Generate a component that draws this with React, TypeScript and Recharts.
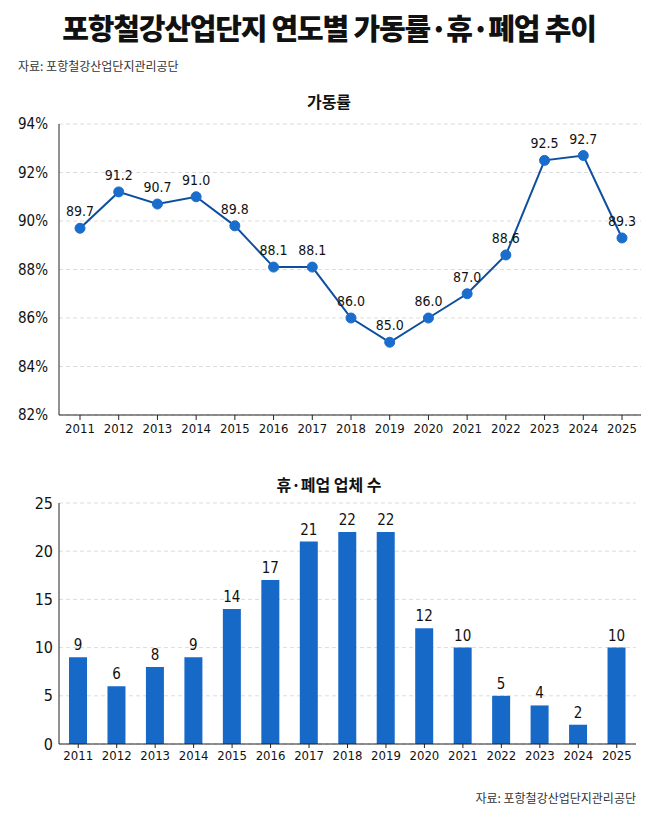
import { LineChart, Line, BarChart, Bar, XAxis, YAxis, CartesianGrid, LabelList } from "recharts";

const years = ["2011", "2012", "2013", "2014", "2015", "2016", "2017", "2018", "2019", "2020", "2021", "2022", "2023", "2024", "2025"];
const utilization = [89.7, 91.2, 90.7, 91.0, 89.8, 88.1, 88.1, 86.0, 85.0, 86.0, 87.0, 88.6, 92.5, 92.7, 89.3];
const closures = [9, 6, 8, 9, 14, 17, 21, 22, 22, 12, 10, 5, 4, 2, 10];
const rateTicks = [82, 84, 86, 88, 90, 92, 94];
const countTicks = [0, 5, 10, 15, 20, 25];

const KR = "'Noto Sans CJK KR', 'Noto Sans', sans-serif";
const NUM = "'Liberation Sans Narrow', 'DejaVu Sans Condensed', 'Noto Sans CJK KR', sans-serif";

const lineData = years.map((y, i) => ({ year: y, rate: utilization[i] }));
const barData = years.map((y, i) => ({ year: y, count: closures[i] }));

export default function App() {
    return (
        <div style={{ position: "absolute", left: 0, top: 0, width: 658, height: 822, background: "#fff", fontFamily: KR }}>
            <div style={{ position: "absolute", top: 6, left: 0, width: 658, textAlign: "center", fontSize: 29, fontWeight: 900, color: "#111", letterSpacing: -1.2 }}>
                포항철강산업단지 연도별 가동률·휴·폐업 추이
            </div>
            <div style={{ position: "absolute", top: 57, left: 18, fontSize: 12, color: "#333" }}>자료: 포항철강산업단지관리공단</div>

            {/* 가동률 */}
            <div style={{ position: "absolute", top: 89, left: 0, width: 658, textAlign: "center", fontSize: 16, fontWeight: 700, color: "#111" }}>
                가동률
            </div>
            <div style={{ position: "absolute", top: 110, left: 0 }}>
                <LineChart width={658} height={340} data={lineData} margin={{ top: 14, right: 17, left: 0, bottom: 5 }}>
                    <CartesianGrid vertical={false} stroke="#dcdcdc" strokeDasharray="4 3" />
                    <XAxis
                        dataKey="year"
                        padding={{ left: 21, right: 19 }}
                        stroke="#222"
                        tickSize={5}
                        tickMargin={4}
                        height={30}
                        tick={{ fill: "#111", fontSize: 13, fontFamily: NUM }}
                    />
                    <YAxis
                        domain={[82, 94]}
                        ticks={rateTicks}
                        tickFormatter={(v) => `${v}%`}
                        width={59}
                        stroke="#222"
                        tickLine={false}
                        tickSize={6}
                        tickMargin={5}
                        tick={{ fill: "#111", fontSize: 15, fontFamily: NUM }}
                    />
                    <Line
                        dataKey="rate"
                        stroke="#0d4f9e"
                        strokeWidth={2}
                        dot={{ r: 5, fill: "#1a6dcc", stroke: "#1a6dcc", strokeWidth: 1 }}
                        isAnimationActive={false}
                    >
                        <LabelList
                            dataKey="rate"
                            position="top"
                            offset={12}
                            formatter={(v: number) => v.toFixed(1)}
                            style={{ fill: "#111", fontSize: 14, fontFamily: NUM }}
                        />
                    </Line>
                </LineChart>
            </div>

            {/* 휴·폐업 업체 수 */}
            <div style={{ position: "absolute", top: 472, left: 0, width: 658, textAlign: "center", fontSize: 16, fontWeight: 700, color: "#111" }}>
                휴·폐업 업체 수
            </div>
            <div style={{ position: "absolute", top: 490, left: 0 }}>
                <BarChart width={658} height={284} data={barData} margin={{ top: 13, right: 22, left: 0, bottom: 0 }}>
                    <CartesianGrid vertical={false} stroke="#dcdcdc" strokeDasharray="4 3" />
                    <XAxis
                        dataKey="year"
                        stroke="#222"
                        tickSize={4}
                        tickMargin={3}
                        height={30}
                        tick={{ fill: "#111", fontSize: 13, fontFamily: NUM }}
                    />
                    <YAxis
                        domain={[0, 25]}
                        ticks={countTicks}
                        width={59}
                        stroke="#222"
                        tickLine={false}
                        tickSize={0}
                        tickMargin={6}
                        tick={{ fill: "#111", fontSize: 16, fontFamily: NUM }}
                    />
                    <Bar dataKey="count" fill="#1769c8" barSize={18} isAnimationActive={false}>
                        <LabelList dataKey="count" position="top" offset={7} style={{ fill: "#111", fontSize: 15, fontFamily: NUM }} />
                    </Bar>
                </BarChart>
            </div>

            <div style={{ position: "absolute", top: 789, right: 22, fontSize: 12, color: "#333" }}>자료: 포항철강산업단지관리공단</div>
        </div>
    );
}
